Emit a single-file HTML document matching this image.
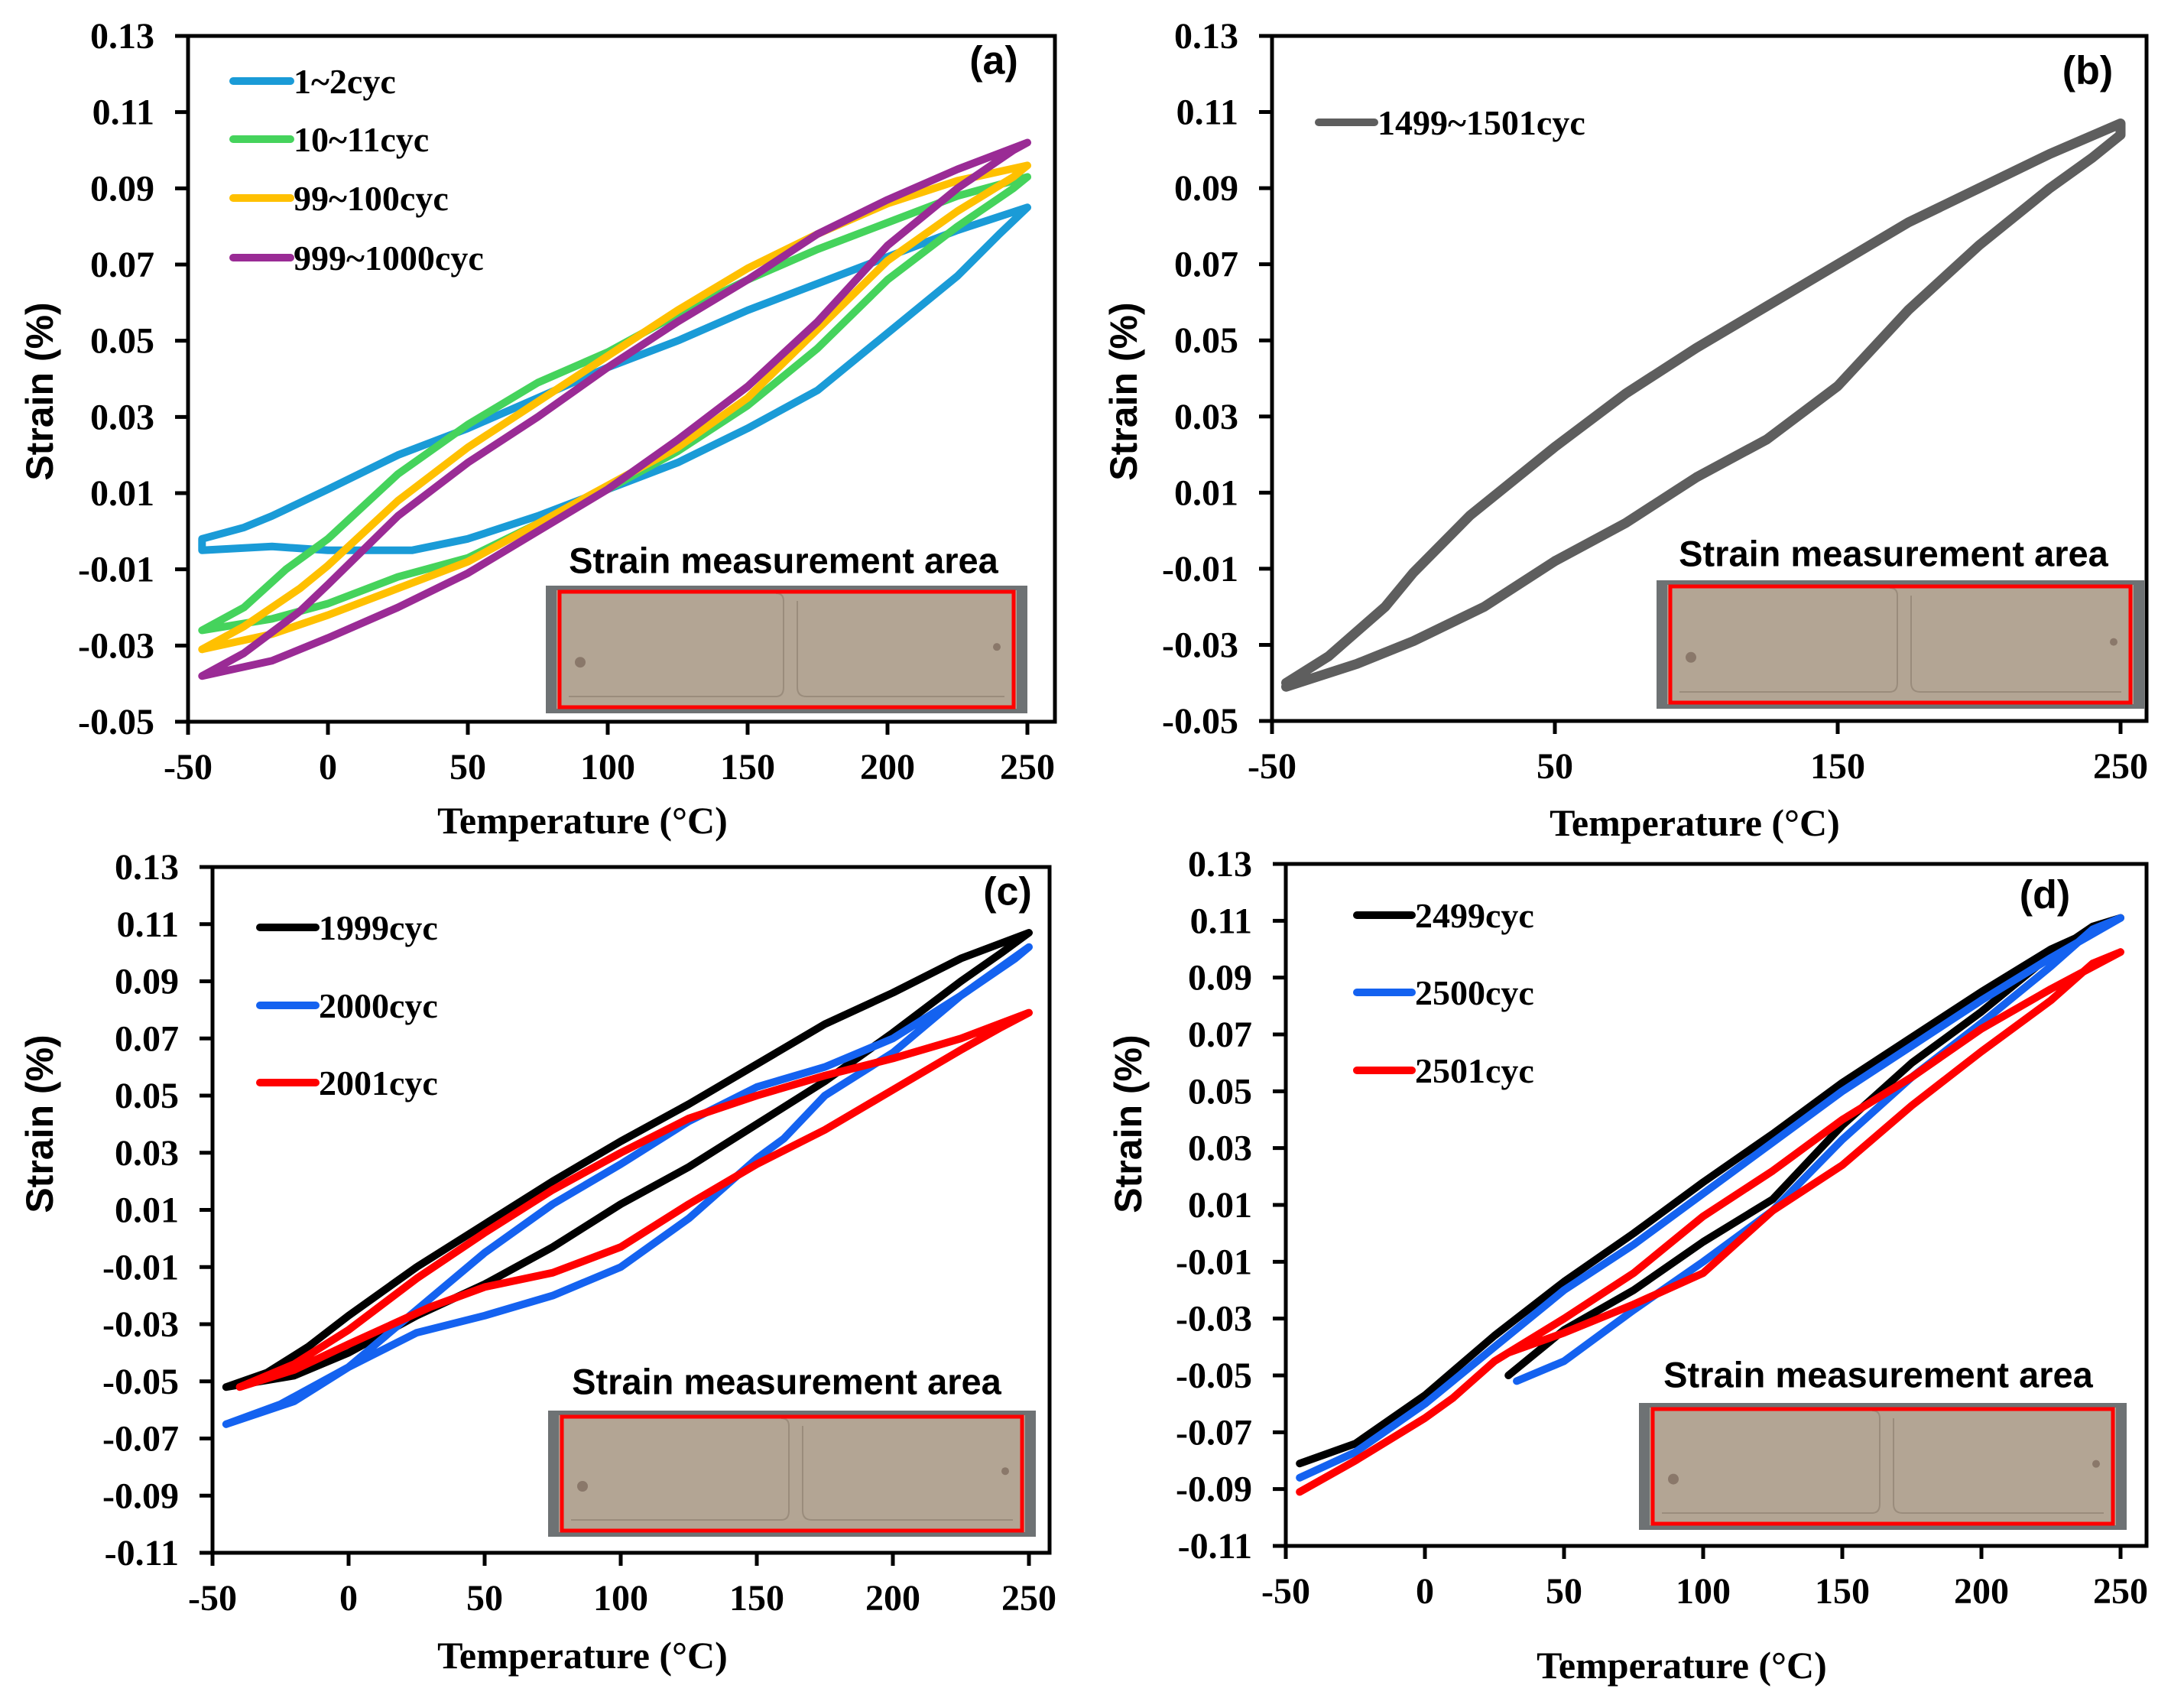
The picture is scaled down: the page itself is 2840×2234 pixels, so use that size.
<!DOCTYPE html>
<html><head><meta charset="utf-8">
<style>
html,body{margin:0;padding:0;background:#fff;}
svg{display:block;}
.tick{font-family:"Liberation Serif",serif;font-weight:bold;font-size:48px;fill:#000;}
.leg{font-family:"Liberation Serif",serif;font-weight:bold;font-size:46px;fill:#000;}
.ttl{font-family:"Liberation Serif",serif;font-weight:bold;font-size:50px;fill:#000;}
.ytl{font-family:"Liberation Sans",sans-serif;font-weight:bold;font-size:50px;fill:#000;}
.ins{font-family:"Liberation Sans",sans-serif;font-weight:bold;font-size:47px;fill:#000;}
.lab{font-family:"Liberation Sans",sans-serif;font-weight:bold;font-size:52px;fill:#000;}
</style></head>
<body>
<svg id="fig" width="2840" height="2234" viewBox="0 0 2840 2234" xmlns="http://www.w3.org/2000/svg"></svg>
<script>
// ---- Panel (a) data ----
const aBlueT = [-45,-45,-30,-20,0,25,50,75,100,125,150,175,200,225,250,240,225,200,175,150,125,100,75,50,30,0,-20,-45];
const aBlueS = [-0.005,-0.002,0.001,0.004,0.011,0.020,0.027,0.035,0.043,0.050,0.058,0.065,0.072,0.079,0.085,0.078,0.067,0.052,0.037,0.027,0.018,0.011,0.004,-0.002,-0.005,-0.005,-0.004,-0.005];
const aGreenT = [-45,-30,-15,0,25,50,75,100,125,150,175,200,225,250,245,225,200,175,150,125,100,75,50,25,0,-20,-45];
const aGreenS = [-0.026,-0.020,-0.010,-0.002,0.015,0.028,0.039,0.047,0.057,0.066,0.074,0.081,0.088,0.093,0.090,0.080,0.066,0.048,0.033,0.021,0.011,0.002,-0.007,-0.012,-0.019,-0.023,-0.026];
const aYellowT = [-45,-30,-10,0,25,50,75,100,125,150,175,200,225,250,245,225,200,175,150,125,100,75,50,25,0,-20,-45];
const aYellowS = [-0.031,-0.025,-0.015,-0.009,0.008,0.022,0.034,0.046,0.058,0.069,0.078,0.086,0.092,0.096,0.093,0.084,0.071,0.053,0.035,0.022,0.012,0.002,-0.008,-0.015,-0.022,-0.027,-0.031];
const aPurpleT = [-45,-30,-10,0,25,50,75,100,125,150,175,200,225,250,245,225,200,175,150,125,100,75,50,25,0,-20,-45];
const aPurpleS = [-0.038,-0.032,-0.021,-0.014,0.004,0.018,0.030,0.043,0.055,0.066,0.078,0.087,0.095,0.102,0.100,0.090,0.075,0.055,0.038,0.024,0.011,0.000,-0.011,-0.020,-0.028,-0.034,-0.038];
// ---- Panel (b) data ----
const bGrayT = [-45,-30,-10,0,20,50,75,100,125,150,175,200,225,250,250,240,225,200,175,150,125,100,75,50,25,0,-20,-45];
const bGrayS = [-0.040,-0.033,-0.020,-0.011,0.004,0.022,0.036,0.048,0.059,0.070,0.081,0.090,0.099,0.107,0.104,0.098,0.090,0.075,0.058,0.038,0.024,0.014,0.002,-0.008,-0.020,-0.029,-0.035,-0.041];
// ---- Panel (c) data ----
const cBlackT = [-45,-30,-15,0,25,50,75,100,125,150,175,200,225,250,240,225,200,175,150,125,100,75,50,25,0,-20,-45];
const cBlackS = [-0.052,-0.047,-0.038,-0.027,-0.010,0.005,0.020,0.034,0.047,0.061,0.075,0.086,0.098,0.107,0.100,0.090,0.072,0.055,0.040,0.025,0.012,-0.003,-0.016,-0.027,-0.040,-0.048,-0.052];
const cBlueT = [-45,-25,0,25,50,75,100,125,150,175,200,225,250,245,225,200,175,160,150,125,100,75,50,25,0,-20,-45];
const cBlueS = [-0.065,-0.058,-0.045,-0.025,-0.005,0.012,0.026,0.041,0.053,0.060,0.070,0.085,0.102,0.098,0.085,0.065,0.050,0.035,0.028,0.007,-0.010,-0.020,-0.027,-0.033,-0.045,-0.057,-0.065];
const cRedT = [-40,-20,0,25,50,75,100,125,150,175,200,225,250,240,225,200,175,150,125,100,75,50,30,0,-20,-40];
const cRedS = [-0.052,-0.044,-0.032,-0.014,0.002,0.017,0.030,0.042,0.050,0.057,0.063,0.070,0.079,0.074,0.066,0.052,0.038,0.026,0.012,-0.003,-0.012,-0.017,-0.024,-0.037,-0.046,-0.052];
// ---- Panel (d) data ----
const dBlackT = [30,50,75,100,125,150,175,200,225,240,250,225,200,175,150,125,100,75,50,25,0,-25,-45];
const dBlackS = [-0.050,-0.034,-0.020,-0.003,0.012,0.038,0.060,0.078,0.098,0.108,0.111,0.100,0.085,0.069,0.053,0.035,0.018,0.000,-0.017,-0.036,-0.057,-0.074,-0.081];
const dBlueT = [33,50,75,100,125,150,175,200,225,240,250,225,200,175,150,125,100,75,50,25,0,-25,-45];
const dBlueS = [-0.052,-0.045,-0.027,-0.010,0.008,0.033,0.055,0.074,0.094,0.107,0.111,0.097,0.082,0.066,0.050,0.032,0.014,-0.004,-0.020,-0.040,-0.060,-0.077,-0.086];
const dRedT = [30,50,75,100,125,150,175,200,225,240,250,225,200,175,150,125,100,75,50,25,10,0,-25,-45];
const dRedS = [-0.042,-0.035,-0.025,-0.014,0.008,0.024,0.045,0.064,0.082,0.095,0.099,0.086,0.072,0.055,0.040,0.022,0.006,-0.014,-0.030,-0.045,-0.058,-0.065,-0.080,-0.091];

const ticksX50 = [-50,0,50,100,150,200,250];
const ticksX100 = [-50,50,150,250];
const ticksYab = [0.13,0.11,0.09,0.07,0.05,0.03,0.01,-0.01,-0.03,-0.05];
const ticksYcd = [0.13,0.11,0.09,0.07,0.05,0.03,0.01,-0.01,-0.03,-0.05,-0.07,-0.09,-0.11];

const NS = "http://www.w3.org/2000/svg";
const svg = document.getElementById('fig');
function mk(tag, attrs, parent, txt){
  const e = document.createElementNS(NS, tag);
  for (const k in attrs) e.setAttribute(k, attrs[k]);
  if (txt !== undefined) e.textContent = txt;
  (parent || svg).appendChild(e);
  return e;
}

const panels = [
 {id:'a', L:246, R:1380, T:47, B:944, kx:3.66, ymin:-0.05, xt:ticksX50, yt:ticksYab, sw:10,
  label:'(a)', lx:1300, ly:83, ytx:56, yty:512, xtx:762, xty:1090,
  ins:{x:714,y:766,w:630,h:167,tx:1025,ty:737},
  leg:{x1:305,x2:380,ys:[106,182,259,337]},
  series:[['1~2cyc','#1a9bd7',aBlueT,aBlueS],['10~11cyc','#45d35c',aGreenT,aGreenS],['99~100cyc','#ffc000',aYellowT,aYellowS],['999~1000cyc','#9a2b95',aPurpleT,aPurpleS]]},
 {id:'b', L:1664, R:2808, T:47, B:943, kx:3.70, ymin:-0.05, xt:ticksX100, yt:ticksYab, sw:13,
  label:'(b)', lx:2731, ly:96, ytx:1474, yty:512, xtx:2217, xty:1093,
  ins:{x:2167,y:759,w:638,h:168,tx:2477,ty:728},
  leg:{x1:1725,x2:1798,ys:[160]},
  series:[['1499~1501cyc','#5e5e5e',bGrayT,bGrayS]]},
 {id:'c', L:278, R:1373, T:1134, B:2031, kx:3.56, ymin:-0.11, xt:ticksX50, yt:ticksYcd, sw:10,
  label:'(c)', lx:1318, ly:1170, ytx:56, yty:1470, xtx:762, xty:2182,
  ins:{x:717,y:1845,w:638,h:165,tx:1029,ty:1811},
  leg:{x1:340,x2:413,ys:[1213,1315,1416]},
  series:[['1999cyc','#000000',cBlackT,cBlackS],['2000cyc','#1462f0',cBlueT,cBlueS],['2001cyc','#ff0000',cRedT,cRedS]]},
 {id:'d', L:1682, R:2808, T:1130, B:2022, kx:3.64, ymin:-0.11, xt:ticksX50, yt:ticksYcd, sw:10,
  label:'(d)', lx:2675, ly:1174, ytx:1480, yty:1470, xtx:2200, xty:2195,
  ins:{x:2144,y:1835,w:638,h:166,tx:2457,ty:1802},
  leg:{x1:1775,x2:1847,ys:[1197,1298,1400]},
  series:[['2499cyc','#000000',dBlackT,dBlackS],['2500cyc','#1462f0',dBlueT,dBlueS],['2501cyc','#ff0000',dRedT,dRedS]]}
];

panels.forEach(p => {
  const g = mk('g', {});
  
  
  const xs = t => p.L + (t + 50) * p.kx;
  const ys = v => p.T + (0.13 - v) / (0.13 - p.ymin) * (p.B - p.T);

  const ins = p.ins;
  const ig = mk('g', {}, g);
  
  
  mk('rect', {x:ins.x, y:ins.y, width:ins.w, height:ins.h, fill:'#6e7274'}, ig);
  mk('rect', {x:ins.x+14, y:ins.y+6, width:ins.w-28, height:ins.h-12, fill:'#b3a594'}, ig);
  const mid = ins.x + ins.w/2;
  mk('path', {d:`M${ins.x+30} ${ins.y+ins.h-22} H${mid-14} Q${mid-4} ${ins.y+ins.h-22} ${mid-4} ${ins.y+ins.h-34} V${ins.y+20} Q${mid-4} ${ins.y+10} ${mid-14} ${ins.y+10}`, fill:'none', stroke:'#9a8c7c', 'stroke-width':2}, ig);
  mk('path', {d:`M${ins.x+ins.w-30} ${ins.y+ins.h-22} H${mid+26} Q${mid+14} ${ins.y+ins.h-22} ${mid+14} ${ins.y+ins.h-34} V${ins.y+20}`, fill:'none', stroke:'#9a8c7c', 'stroke-width':2}, ig);
  mk('circle', {cx:ins.x+45, cy:ins.y+ins.h*0.6, r:7, fill:'#8a786a'}, ig);
  mk('circle', {cx:ins.x+ins.w-40, cy:ins.y+ins.h*0.48, r:5, fill:'#8a786a'}, ig);
  const rr = mk('rect', {x:ins.x+18, y:ins.y+8, width:ins.w-36, height:ins.h-16, fill:'none', stroke:'#ff0000', 'stroke-width':5}, ig);
  
  
  const it = mk('text', {x:ins.tx, y:ins.ty, 'text-anchor':'middle', 'dominant-baseline':'middle', class:'ins'}, g, 'Strain measurement area');
  
  

  p.series.forEach(s => {
    const [name, col, tArr, sArr] = s;
    let d = '';
    for (let i = 0; i < tArr.length; i++) d += (i ? 'L' : 'M') + xs(tArr[i]).toFixed(1) + ' ' + ys(sArr[i]).toFixed(1);
    const pa = mk('path', {d:d, fill:'none', stroke:col, 'stroke-width':p.sw, 'stroke-linejoin':'round', 'stroke-linecap':'round'}, g);
    
    
  });

  const fr = mk('rect', {x:p.L, y:p.T, width:p.R-p.L, height:p.B-p.T, fill:'none', stroke:'#000', 'stroke-width':5}, g);
  
  

  p.yt.forEach(v => {
    const y = ys(v);
    mk('line', {x1:p.L-17, x2:p.L, y1:y, y2:y, stroke:'#000', 'stroke-width':5}, g);
    const t = mk('text', {x:p.L-44, y:y+16, 'text-anchor':'end', class:'tick'}, g, v.toFixed(2));
    
    
  });
  p.xt.forEach(v => {
    const x = xs(v);
    mk('line', {x1:x, x2:x, y1:p.B, y2:p.B+17, stroke:'#000', 'stroke-width':5}, g);
    const t = mk('text', {x:x, y:p.B+75, 'text-anchor':'middle', class:'tick'}, g, String(v));
    
    
  });

  const xt = mk('text', {x:p.xtx, y:p.xty, 'text-anchor':'middle', class:'ttl'}, g, 'Temperature (\u00B0C)');
  
  
  const yt = mk('text', {x:p.ytx, y:p.yty, 'text-anchor':'middle', 'dominant-baseline':'middle', class:'ytl', transform:`rotate(-90 ${p.ytx} ${p.yty})`}, g, 'Strain (%)');
  
  

  const pl = mk('text', {x:p.lx, y:p.ly, 'text-anchor':'middle', 'dominant-baseline':'middle', class:'lab'}, g, p.label);
  
  

  p.series.forEach((s, i) => {
    const y = p.leg.ys[i];
    const lg = mk('g', {}, g);
    
    
    mk('line', {x1:p.leg.x1, x2:p.leg.x2, y1:y, y2:y, stroke:s[1], 'stroke-width':10, 'stroke-linecap':'round'}, lg);
    mk('text', {x:p.leg.x2+4, y:y+16, class:'leg'}, lg, s[0]);
  });
});
</script>
</body></html>
